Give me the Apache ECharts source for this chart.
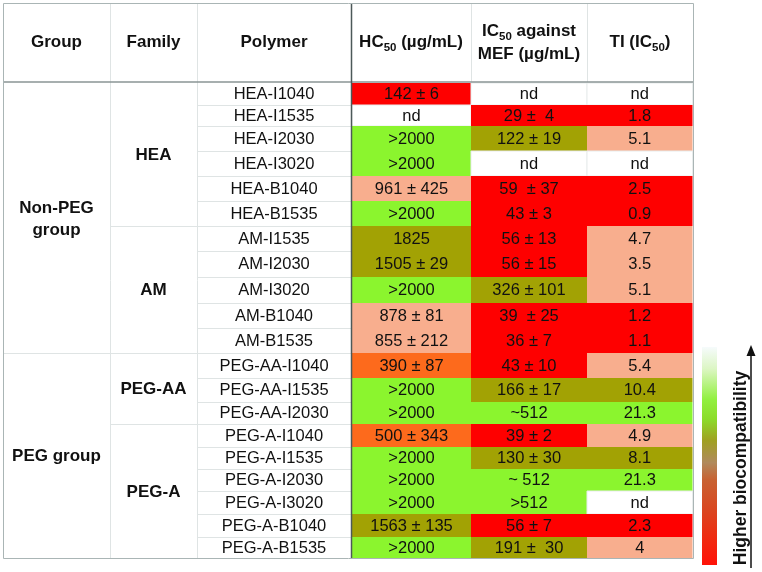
<!DOCTYPE html>
<html><head><meta charset="utf-8">
<script src="https://cdn.jsdelivr.net/npm/echarts@6/dist/echarts.min.js"></script>
<style>html,body{margin:0;padding:0;background:#fff}#c{width:762px;height:572px}</style>
</head><body><div id="c"></div>
<script>
// ---------------- DATA ----------------
const groups = ['Non-PEG\ngroup', 'PEG group'];
const groupRows = [[0, 10], [11, 19]];
const families = ['HEA', 'AM', 'PEG-AA', 'PEG-A'];
const familyRows = [[0, 5], [6, 10], [11, 13], [14, 19]];
const polymers = ['HEA-I1040', 'HEA-I1535', 'HEA-I2030', 'HEA-I3020', 'HEA-B1040', 'HEA-B1535',
  'AM-I1535', 'AM-I2030', 'AM-I3020', 'AM-B1040', 'AM-B1535',
  'PEG-AA-I1040', 'PEG-AA-I1535', 'PEG-AA-I2030',
  'PEG-A-I1040', 'PEG-A-I1535', 'PEG-A-I2030', 'PEG-A-I3020', 'PEG-A-B1040', 'PEG-A-B1535'];
const hc50 = ['142 ± 6', 'nd', '>2000', '>2000', '961 ± 425', '>2000', '1825', '1505 ± 29', '>2000', '878 ± 81',
  '855 ± 212', '390 ± 87', '>2000', '>2000', '500 ± 343', '>2000', '>2000', '>2000', '1563 ± 135', '>2000'];
const ic50 = ['nd', '29 ±  4', '122 ± 19', 'nd', '59  ± 37', '43 ± 3', '56 ± 13', '56 ± 15', '326 ± 101', '39  ± 25',
  '36 ± 7', '43 ± 10', '166 ± 17', '~512', '39 ± 2', '130 ± 30', '~ 512', '>512', '56 ± 7', '191 ±  30'];
const tiVals = ['nd', '1.8', '5.1', 'nd', '2.5', '0.9', '4.7', '3.5', '5.1', '1.2',
  '1.1', '5.4', '10.4', '21.3', '4.9', '8.1', '21.3', 'nd', '2.3', '4'];
// colour class of each cell: 0 nd, 1 red, 2 orange, 3 salmon, 4 olive, 5 green
const hcLevel = [1, 0, 5, 5, 3, 5, 4, 4, 5, 3, 3, 2, 5, 5, 2, 5, 5, 5, 4, 5];
const icLevel = [0, 1, 4, 0, 1, 1, 1, 1, 4, 1, 1, 1, 4, 5, 1, 4, 5, 5, 1, 4];
const tiLevel = [0, 1, 3, 0, 1, 1, 3, 3, 3, 1, 1, 3, 4, 5, 3, 4, 5, 0, 1, 3];
const headers = [
  '{b|Group}', '{b|Family}', '{b|Polymer}',
  '{b|HC}{s|50}{b| (µg/mL)}',
  '{b|IC}{s|50}{b| against}\n{b|MEF (µg/mL)}',
  '{b|TI (IC}{s|50}{b|)}'
];
const legendText = 'Higher biocompatibility';

// ---------------- LAYOUT / STYLE ----------------
const FONT = '"Liberation Sans", Arial, Helvetica, sans-serif';
const palette = ['#ffffff', '#fe0000', '#fd6a1c', '#f8ae8e', '#a2a204', '#8bf52e'];
const LAYOUT = {
  colEdges: [3, 110, 197, 351, 471, 587, 693],
  top: 3, headerBottom: 82, rowStart: 83,
  rowH: [22, 21, 25, 25, 25, 25, 25, 26, 26, 25, 25, 25, 24, 22, 23, 22, 22, 23, 23, 21]
};
const rowEdges = [LAYOUT.rowStart];
LAYOUT.rowH.forEach(h => rowEdges.push(rowEdges[rowEdges.length - 1] + h));
const bottom = rowEdges[rowEdges.length - 1];
const CE = LAYOUT.colEdges;

const cellText = [hc50, ic50, tiVals];
const cellLevel = [hcLevel, icLevel, tiLevel];
const cellData = [];
for (let c = 0; c < 3; c++) for (let r = 0; r < polymers.length; r++) cellData.push([c, r, cellLevel[c][r]]);

const richStyle = {
  b: { fontSize: 17, fontWeight: 'bold', fontFamily: FONT, fill: '#111', lineHeight: 23 },
  s: { fontSize: 11.5, fontWeight: 'bold', fontFamily: FONT, fill: '#111', lineHeight: 23, verticalAlign: 'bottom', padding: [0, 0, 0, 0] }
};

function textEl(x, y, text, bold) {
  return { type: 'text', style: { x, y, text, align: 'center', verticalAlign: 'middle',
    fontSize: bold ? 17 : 16.5, fontWeight: bold ? 'bold' : 'normal', fontFamily: FONT, fill: '#111', lineHeight: 22 } };
}

const lines = [];
const L = (x1, y1, x2, y2, stroke, w) => lines.push({ type: 'line', shape: { x1, y1, x2, y2 }, style: { stroke, lineWidth: w || 1 }, z: 10 });
const light = '#dfe4e4';
for (let r = 1; r < polymers.length; r++) L(CE[2], rowEdges[r] + 0.5, CE[3], rowEdges[r] + 0.5, light);
familyRows.slice(1).forEach(fr => L(CE[1], rowEdges[fr[0]] + 0.5, CE[3], rowEdges[fr[0]] + 0.5, light));
groupRows.slice(1).forEach(gr => L(CE[0], rowEdges[gr[0]] + 0.5, CE[3], rowEdges[gr[0]] + 0.5, light));
L(CE[1] + 0.5, LAYOUT.top, CE[1] + 0.5, bottom, light);
L(CE[2] + 0.5, LAYOUT.top, CE[2] + 0.5, bottom, light);
L(CE[4] + 0.5, LAYOUT.top, CE[4] + 0.5, LAYOUT.headerBottom, light);
L(CE[5] + 0.5, LAYOUT.top, CE[5] + 0.5, LAYOUT.headerBottom, light);
L(CE[0], LAYOUT.headerBottom, CE[6], LAYOUT.headerBottom, '#8a9595', 1.5);
L(CE[3] + 0.5, LAYOUT.top, CE[3] + 0.5, bottom, '#4d5959', 1.5);

const graphics = lines.concat([
  { type: 'rect', shape: { x: CE[0] + 0.5, y: LAYOUT.top + 0.5, width: CE[6] - CE[0], height: bottom - LAYOUT.top }, style: { fill: null, stroke: '#aab5b5', lineWidth: 1 }, z: 11 },
  { type: 'rect', shape: { x: 702, y: 347, width: 15, height: 218 },
    style: { fill: new echarts.graphic.LinearGradient(0, 0, 0, 1, [
      { offset: 0, color: '#f6fbfc' }, { offset: 0.1, color: '#dcf6c4' }, { offset: 0.24, color: '#92f040' },
      { offset: 0.33, color: '#8cdc2a' }, { offset: 0.43, color: '#a0a022' }, { offset: 0.53, color: '#b08a5c' },
      { offset: 0.61, color: '#c86232' }, { offset: 0.75, color: '#da4620' }, { offset: 0.88, color: '#f02a10' },
      { offset: 1, color: '#ff1208' }]) } },
  { type: 'line', shape: { x1: 751, y1: 354, x2: 751, y2: 568 }, style: { stroke: '#111', lineWidth: 1.5 } },
  { type: 'polygon', shape: { points: [[751, 345], [746.5, 356], [755.5, 356]] }, style: { fill: '#111' } },
  { type: 'text', x: 741, y: 468, rotation: Math.PI / 2,
    style: { text: legendText, align: 'center', verticalAlign: 'middle', fontSize: 17.5, fontWeight: 'bold', fontFamily: FONT, fill: '#111' } }
]);
headers.forEach((h, i) => graphics.push({ type: 'text', z: 12,
  style: { x: (CE[i] + CE[i + 1]) / 2, y: (LAYOUT.top + LAYOUT.headerBottom) / 2, text: h, rich: richStyle, align: 'center', verticalAlign: 'middle' } }));

const chart = echarts.init(document.getElementById('c'), null, { renderer: 'canvas' });
chart.setOption({
  animation: false,
  backgroundColor: '#fff',
  grid: { left: 0, top: 0, width: 762, height: 572 },
  xAxis: { type: 'value', min: 0, max: 762, show: false },
  yAxis: { type: 'value', min: 0, max: 572, inverse: true, show: false },
  graphic: graphics,
  series: [
    { // coloured value cells
      type: 'custom', clip: false, data: cellData, encode: { x: 0, y: 1 }, z: 2,
      renderItem(params, api) {
        const c = api.value(0), r = api.value(1), lv = api.value(2);
        const p0 = api.coord([CE[3 + c] + (c === 0 ? 1 : 0), rowEdges[r]]);
        const p1 = api.coord([CE[4 + c] - (c === 2 ? 0.5 : 0), rowEdges[r + 1]]);
        return { type: 'group', children: [
          { type: 'rect', shape: { x: p0[0], y: p0[1], width: p1[0] - p0[0], height: p1[1] - p0[1] },
            style: { fill: palette[lv], stroke: lv === 0 ? '#e8ecec' : null } },
          textEl((p0[0] + p1[0]) / 2, (p0[1] + p1[1]) / 2 + 0.5, cellText[c][r], false)
        ] };
      }
    },
    { // polymer names
      type: 'custom', clip: false, data: polymers.map((p, i) => [0, i]), encode: { x: 0, y: 1 }, z: 3,
      renderItem(params, api) {
        const r = api.value(1);
        const p0 = api.coord([CE[2], rowEdges[r]]), p1 = api.coord([CE[3], rowEdges[r + 1]]);
        return textEl((p0[0] + p1[0]) / 2, (p0[1] + p1[1]) / 2 + 0.5, polymers[r], false);
      }
    },
    { // family labels
      type: 'custom', clip: false, data: familyRows.map(fr => [fr[0], fr[1]]), encode: { x: 0, y: 1 }, z: 3,
      renderItem(params, api) {
        const a = api.value(0), b = api.value(1);
        const p0 = api.coord([CE[1], rowEdges[a]]), p1 = api.coord([CE[2], rowEdges[b + 1]]);
        return textEl((p0[0] + p1[0]) / 2, (p0[1] + p1[1]) / 2 + 1, families[params.dataIndex], true);
      }
    },
    { // group labels
      type: 'custom', clip: false, data: groupRows.map(gr => [gr[0], gr[1]]), encode: { x: 0, y: 1 }, z: 3,
      renderItem(params, api) {
        const a = api.value(0), b = api.value(1);
        const p0 = api.coord([CE[0], rowEdges[a]]), p1 = api.coord([CE[1], rowEdges[b + 1]]);
        return textEl((p0[0] + p1[0]) / 2, (p0[1] + p1[1]) / 2 + 1, groups[params.dataIndex], true);
      }
    }
  ]
});
</script></body></html>
